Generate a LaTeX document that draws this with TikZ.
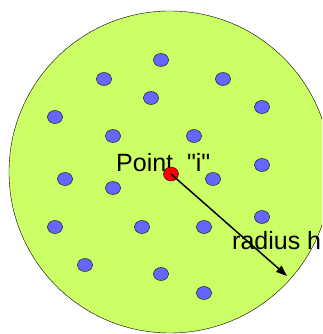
\documentclass[tikz,border=0pt]{standalone}
\usepackage{fontspec}
\setmainfont{Liberation Sans}[Ligatures=TeXOff]
\usetikzlibrary{arrows.meta,shapes.geometric}
\definecolor{kgreen}{HTML}{CCFF66}
\definecolor{kblue} {HTML}{6666FF}
\definecolor{kred}  {HTML}{FF0000}
\tikzset{
  kdisc/.style={circle, draw=black, thin, fill=kgreen, inner sep=0pt},
  kdot/.style={ellipse, draw=black, thin, fill=kblue, inner sep=0pt,
               minimum width=15pt, minimum height=13pt},
  kcentre/.style={kdot, fill=kred, minimum width=15pt, minimum height=14pt},
  klabel/.style={font=\fontsize{25}{28}\selectfont, inner sep=0pt},
  kradius/.style={-{Triangle[length=11pt,width=8pt]}, line width=1.5pt},
}
\begin{document}
\begin{tikzpicture}[x=1pt,y=-1pt]
  \useasboundingbox (0,0) rectangle (322,334);
  \clip (0,0) rectangle (322,334);
  \node[kdisc, minimum size=322pt] (disc) at (170,172) {};

  % neighbour particles
  \foreach \px/\py [count=\k] in {161/60, 104/79, 223/79, 151/98, 262/107,
      55/117, 113/136, 194/136, 262/165, 65/179, 213/179, 113/188,
      262/217, 55/227, 142/227, 204/227, 85/265, 161/274, 204/293}
    \node[kdot] (d\k) at (\px,\py) {};

  \node[klabel, anchor=base west] (lpoint) at (116,171) {Point\ \ "i"};
  \node[kcentre] (pi) at (171,174) {};
  \coordinate (rim) at (287,276);
  \draw[kradius] (pi.center) -- (rim);
  \node[klabel, anchor=base west] (lradius) at (232,249) {radius h};
\end{tikzpicture}
\end{document}
